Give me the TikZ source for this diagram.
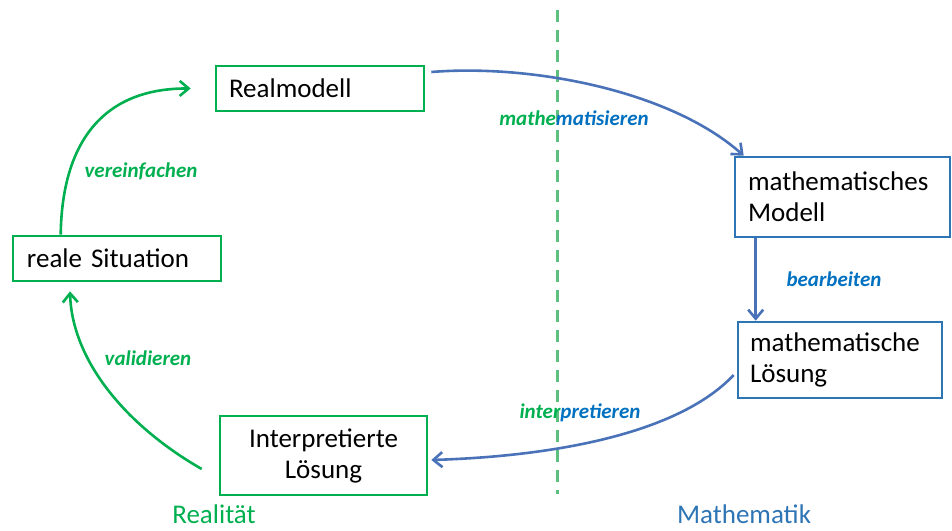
\documentclass[tikz,border=0pt]{standalone}
\usepackage{fontspec}
\setmainfont{Carlito}
\usetikzlibrary{arrows.meta,calc}
\definecolor{rgreen}{HTML}{00B050}
\definecolor{dgreen}{HTML}{5DBF7E}
\definecolor{bbox}{HTML}{2E75B6}
\definecolor{barrow}{HTML}{4A72B8}
\definecolor{blabel}{HTML}{0070C0}
\tikzset{
  gbox/.style={draw=rgreen, line width=2.6pt, inner sep=0pt, font=\fontsize{27}{31}\selectfont},
  bboxs/.style={draw=bbox, line width=2.6pt, inner sep=0pt, font=\fontsize{27}{31}\selectfont},
  garrow/.style={draw=rgreen, line width=2.6pt, -{Straight Barb[length=9pt,width=15pt,line width=2.6pt]}},
  barr/.style={draw=barrow, line width=2.6pt, -{Straight Barb[length=9pt,width=15pt,line width=2.6pt]}},
  lbl/.style={font=\fontsize{21}{25}\selectfont\bfseries\itshape},
  side/.style={font=\fontsize{27}{31}\selectfont}
}
\begin{document}
\begin{tikzpicture}[x=1pt,y=-1pt]
\useasboundingbox (0,0) rectangle (952,530);
% divider
\coordinate (dtop) at (557,10);
\coordinate (dbot) at (557,494);
\draw[dgreen, line width=3pt, dash pattern=on 12pt off 8pt] (dtop) -- (dbot);
% boxes
\node[gbox, minimum width=208pt, minimum height=45pt, text width=182pt, align=left] (rm) at (320,88.5) {Realmodell};
\node[gbox, minimum width=208pt, minimum height=45pt, text width=180pt, align=left] (rs) at (117,258.5) {reale Situation};
\node[bboxs, minimum width=215pt, minimum height=80pt, text width=189pt, align=left] (mm) at (842.5,197) {mathematisches\\Modell};
\node[bboxs, minimum width=204pt, minimum height=76pt, text width=180pt, align=left] (ml) at (840,360) {mathematische\\Lösung};
\node[gbox, minimum width=207pt, minimum height=79pt, text width=190pt, align=center] (il) at (323.5,455.5) {Interpretierte\\Lösung};
% arrows
\draw[garrow] ([xshift=49pt]rs.north west) .. controls (62,140) and (105,88) .. ([xshift=-24pt]rm.west);
\draw[garrow] ([xshift=-17pt,yshift=-13.5pt]il.west) .. controls (125,425) and (72,360) .. ([xshift=-47pt,yshift=-9pt]rs.south);
\draw[barr] ([xshift=6pt,yshift=16.5pt]rm.east) .. controls (530,64) and (670,90) .. ([xshift=10pt]mm.north west);
\draw[barr] ([xshift=22pt]mm.south west) -- ([xshift=19pt]ml.north west);
\draw[barr] ([xshift=-3pt,yshift=-15pt]ml.west) .. controls (680,432) and (560,456) .. ([xshift=3pt,yshift=-4.5pt]il.east);
% labels
\node[lbl, text=rgreen] (l1) at (141,171) {vereinfachen};
\node[lbl, text=rgreen] (l2) at (148,358) {validieren};
\node[lbl] (l3) at (574,118) {\textcolor{rgreen}{mathe}\textcolor{blabel}{matisieren}};
\node[lbl, text=blabel] (l4) at (834,279) {bearbeiten};
\node[lbl] (l5) at (580,413) {\textcolor{rgreen}{inter}\textcolor{blabel}{pretieren}};
\node[side, text=rgreen] (re) at (214,514) {Realität};
\node[side, text=bbox] (ma) at (744,514) {Mathematik};
\end{tikzpicture}
\end{document}
